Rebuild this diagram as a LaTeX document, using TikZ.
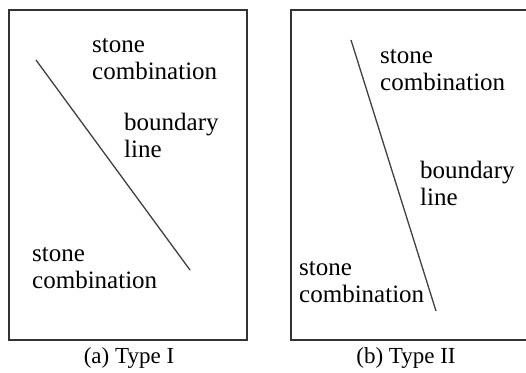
\documentclass[tikz,border=0pt]{standalone}
\usepackage{fontspec}
\setmainfont{Liberation Serif}
\usepackage{tikz}

\begin{document}
\begin{tikzpicture}[x=1pt, y=-1pt,
    label/.style={anchor=base west, inner sep=0pt, align=left, font=\fontsize{25}{27}\selectfont},
    caption/.style={inner sep=0pt, font=\fontsize{23}{25}\selectfont},
    frame/.style={draw=black!80, line width=1.6pt},
    bline/.style={draw=black!75, line width=1.3pt}]
    \useasboundingbox (0,0) rectangle (526,372);

    % Frames (the right one runs off the page)
    \draw[frame] (9,10) rectangle (247,340);
    \draw[frame] (527,10) -- (291,10) -- (291,340) -- (527,340);

    % (a) Type I
    \coordinate (a1) at (36,60);
    \coordinate (a2) at (190,270);
    \draw[bline] (a1) -- (a2);
    \node[label] (atop) at (92,79) {stone\\combination};
    \node[label] (abnd) at (124,157) {boundary\\line};
    \node[label] (abot) at (32,288) {stone\\combination};
    \node[caption] (acap) at (129,358) {(a) Type I};

    % (b) Type II
    \coordinate (b1) at (351,40);
    \coordinate (b2) at (436,311);
    \draw[bline] (b1) -- (b2);
    \node[label] (btop) at (380,90) {stone\\combination};
    \node[label] (bbnd) at (420,205) {boundary\\line};
    \node[label] (bbot) at (299,302) {stone\\combination};
    \node[caption] (bcap) at (406,358) {(b) Type II};
\end{tikzpicture}
\end{document}
